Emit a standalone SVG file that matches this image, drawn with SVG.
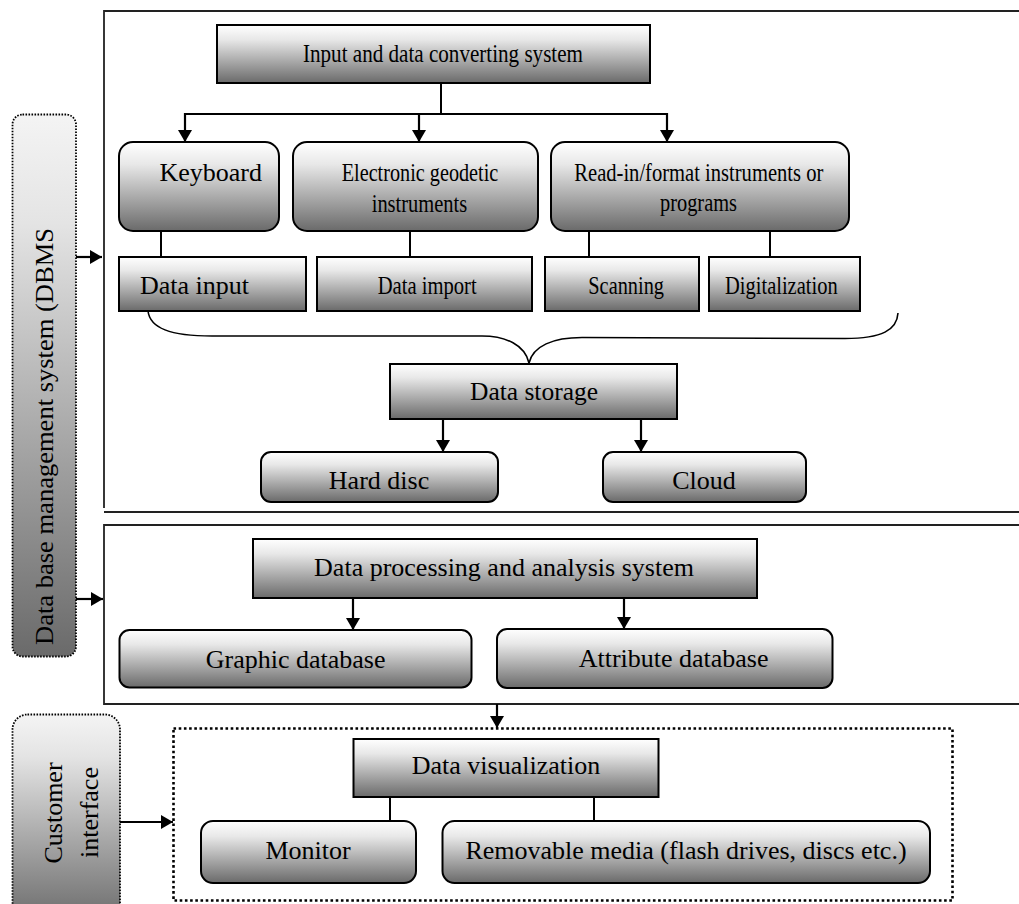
<svg xmlns="http://www.w3.org/2000/svg" width="1019" height="904" viewBox="0 0 1019 904">
<defs>
<linearGradient id="g" x1="0" y1="0" x2="0" y2="1">
<stop offset="0" stop-color="#ffffff"/>
<stop offset="0.25" stop-color="#e8e8e8"/>
<stop offset="1" stop-color="#6a6a6a"/>
</linearGradient>
<linearGradient id="gs" x1="0" y1="0" x2="0" y2="1">
<stop offset="0" stop-color="#f4f4f4"/>
<stop offset="0.2" stop-color="#e4e4e4"/>
<stop offset="1" stop-color="#6a6a6a"/>
</linearGradient>
<marker id="ah" viewBox="0 0 12 14" refX="12" refY="7" markerWidth="12" markerHeight="14" markerUnits="userSpaceOnUse" orient="auto">
<path d="M0,0 L12,7 L0,14 Z" fill="#000"/>
</marker>
<style>
.box{fill:url(#g);stroke:#000;stroke-width:2}
.side{fill:url(#gs);stroke:#000;stroke-width:1.8;stroke-dasharray:1.6 1.4}
.panel{fill:none;stroke:#222;stroke-width:1.8}
.ln{fill:none;stroke:#000;stroke-width:2}
.arr{fill:none;stroke:#000;stroke-width:2.2;marker-end:url(#ah)}
.t{font-family:"Liberation Serif","Times New Roman",serif;font-size:26px;fill:#000}
.m{text-anchor:middle}
</style>
</defs>
<rect width="1019" height="904" fill="#fff"/>

<g id="panels">
<path class="panel" d="M1019,11 L104,11 L104,508"/>
<path class="panel" d="M104,512 L1019,512"/>
<path class="panel" d="M1019,525 L104,525 L104,704 L1019,704"/>
<rect x="173.5" y="728.5" width="779" height="172" fill="none" stroke="#000" stroke-width="2.6" stroke-dasharray="2.6 2.6"/>
</g>

<g id="connectors">
<path class="ln" d="M441,83 L441,114"/>
<path class="ln" d="M185,114 L667,114"/>
<path class="arr" d="M185,113 L185,142"/>
<path class="arr" d="M419,113 L419,142"/>
<path class="arr" d="M667,113 L667,142"/>
<path class="ln" d="M161,231 L161,257"/>
<path class="ln" d="M410,231 L410,257"/>
<path class="ln" d="M589,231 L589,257"/>
<path class="ln" d="M770,231 L770,257"/>
<path fill="none" stroke="#000" stroke-width="1.6" d="M148,311 C150,328 170,336 212,336 L482,336 C506,336 525,345 529,363 C533,346 553,337.5 582,337.5 L845,338.5 C882,338.5 897,330 898,313"/>
<path class="arr" d="M443,419 L443,452"/>
<path class="arr" d="M641,419 L641,452"/>
<path class="arr" d="M353,598 L353,630"/>
<path class="arr" d="M624,598 L624,629"/>
<path class="arr" d="M497,704 L497,728"/>
<path class="ln" d="M390,797 L390,821"/>
<path class="ln" d="M594,797 L594,821"/>
<path class="arr" d="M76,257 L102,257"/>
<path class="arr" d="M76,599 L103,599"/>
<path class="arr" d="M120,822 L173,822"/>
</g>

<g id="dbms">
<rect class="side" x="12.5" y="114.5" width="63.5" height="542" rx="10"/>
<text class="t" transform="translate(53,645) rotate(-90)" textLength="417" lengthAdjust="spacingAndGlyphs">Data base management system (DBMS</text>
</g>
<g id="customer">
<rect class="side" x="12.5" y="714.5" width="107.5" height="210" rx="15"/>
<text class="t m" transform="translate(61.5,813) rotate(-90)">Customer</text>
<text class="t m" transform="translate(98,812.5) rotate(-90)">interface</text>
</g>

<g id="input-system">
<rect class="box" x="217" y="25" width="433" height="58"/>
<text class="t" x="303" y="62" textLength="280" lengthAdjust="spacingAndGlyphs">Input and data converting system</text>
</g>
<g id="keyboard">
<rect class="box" x="119" y="142" width="160" height="89" rx="14"/>
<text class="t" x="159.5" y="181">Keyboard</text>
</g>
<g id="geodetic">
<rect class="box" x="293" y="142" width="245" height="89" rx="14"/>
<text class="t" x="341.7" y="181" textLength="156.6" lengthAdjust="spacingAndGlyphs">Electronic geodetic</text>
<text class="t" x="371.7" y="211.5" textLength="95.6" lengthAdjust="spacingAndGlyphs">instruments</text>
</g>
<g id="readin">
<rect class="box" x="551" y="142" width="298" height="89" rx="14"/>
<text class="t" x="574.3" y="180.5" textLength="249" lengthAdjust="spacingAndGlyphs">Read-in/format instruments or</text>
<text class="t" x="660" y="210.5" textLength="77" lengthAdjust="spacingAndGlyphs">programs</text>
</g>
<g id="data-input">
<rect class="box" x="119" y="257" width="187" height="54"/>
<text class="t" x="140" y="293.5">Data input</text>
</g>
<g id="data-import">
<rect class="box" x="317" y="257" width="215" height="54"/>
<text class="t" x="377.7" y="293.5" textLength="99" lengthAdjust="spacingAndGlyphs">Data import</text>
</g>
<g id="scanning">
<rect class="box" x="545" y="257" width="154" height="54"/>
<text class="t" x="588.3" y="293.5" textLength="75.7" lengthAdjust="spacingAndGlyphs">Scanning</text>
</g>
<g id="digitalization">
<rect class="box" x="709" y="257" width="151" height="54"/>
<text class="t" x="725" y="293.5" textLength="112.7" lengthAdjust="spacingAndGlyphs">Digitalization</text>
</g>
<g id="data-storage">
<rect class="box" x="390" y="364" width="287" height="55"/>
<text class="t" x="470" y="400" textLength="128" lengthAdjust="spacingAndGlyphs">Data storage</text>
</g>
<g id="hard-disc">
<rect class="box" x="261" y="452" width="237" height="50" rx="10"/>
<text class="t m" x="379" y="489">Hard disc</text>
</g>
<g id="cloud">
<rect class="box" x="603" y="452" width="203" height="50" rx="10"/>
<text class="t m" x="704" y="489">Cloud</text>
</g>
<g id="processing">
<rect class="box" x="253" y="539" width="504" height="59"/>
<text class="t m" x="504" y="576">Data processing and analysis system</text>
</g>
<g id="graphic-db">
<rect class="box" x="119.5" y="630" width="352" height="57.5" rx="10"/>
<text class="t m" x="295.6" y="667.5">Graphic database</text>
</g>
<g id="attribute-db">
<rect class="box" x="497" y="629" width="335.5" height="59" rx="10"/>
<text class="t m" x="673.6" y="666.5">Attribute database</text>
</g>
<g id="visualization">
<rect class="box" x="353.5" y="739" width="305" height="58"/>
<text class="t m" x="506" y="773.5">Data visualization</text>
</g>
<g id="monitor">
<rect class="box" x="201" y="821" width="215" height="62" rx="12"/>
<text class="t m" x="308" y="858.5">Monitor</text>
</g>
<g id="removable">
<rect class="box" x="442.5" y="821" width="487.5" height="62" rx="12"/>
<text class="t m" x="686" y="858.5">Removable media (flash drives, discs etc.)</text>
</g>
</svg>
